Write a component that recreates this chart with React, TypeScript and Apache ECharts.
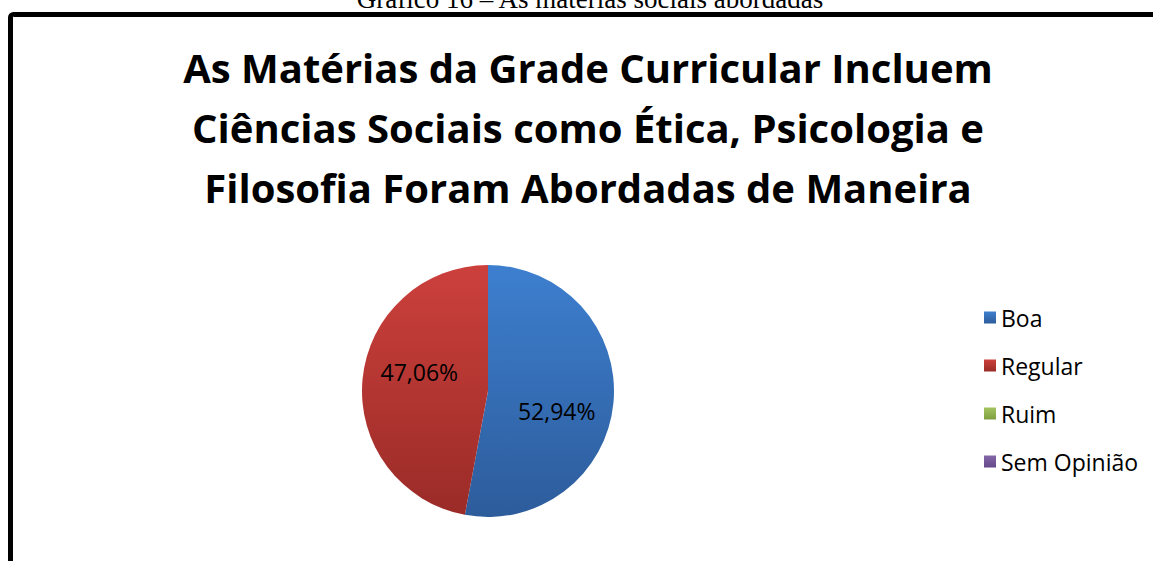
import React, { useEffect, useRef } from "react";
import * as echarts from "echarts";

const categories = ["Boa", "Regular", "Ruim", "Sem Opinião"];
const values = [9, 8, 0, 0];
const titleLines = [
  "As Matérias da Grade Curricular Incluem",
  "Ciências Sociais como Ética, Psicologia e",
  "Filosofia Foram Abordadas de Maneira",
];
const caption = "Gráfico 16 – As matérias sociais abordadas";

const colorsTop = ["#3d7fcf", "#cc403c", "#a3c45f", "#8566a8"];
const colorsBottom = ["#2d5c9b", "#9a2b27", "#7f9e40", "#65498a"];

export default function App() {
  const ref = useRef<HTMLDivElement>(null);
  useEffect(() => {
    document.body.style.margin = "0";
    const chart = echarts.init(ref.current!, null, { renderer: "svg" });
    const total = values.reduce((a, b) => a + b, 0);
    const grad = (i: number) =>
      new echarts.graphic.LinearGradient(0, 0, 0, 1, [
        { offset: 0, color: colorsTop[i] },
        { offset: 1, color: colorsBottom[i] },
      ]);
    const labelShift: Record<number, [number, number]> = { 0: [3, 14], 1: [-3, -13] };
    chart.setOption({
      animation: false,
      backgroundColor: "#ffffff",
      graphic: [
        {
          type: "text",
          x: 590,
          y: 12,
          style: {
            text: caption,
            fontFamily: "'Liberation Serif'",
            fontSize: 27,
            fill: "#000",
            textAlign: "center",
            textVerticalAlign: "bottom",
          },
        },
        {
          type: "rect",
          shape: { x: 10.5, y: 14.5, width: 1300, height: 700, r: 3 },
          style: { fill: "none", stroke: "#000", lineWidth: 5 },
        },
        ...titleLines.map((t, i) => ({
          type: "text",
          x: 588,
          y: 67 + i * 60,
          style: {
            text: t,
            fontFamily: "'Open Sans'",
            fontWeight: "bold",
            fontSize: 40,
            fill: "#000",
            textAlign: "center",
            textVerticalAlign: "middle",
          },
        })),
      ],
      legend: {
        orient: "vertical",
        left: 979,
        top: 301,
        itemWidth: 12,
        itemHeight: 12,
        itemGap: 25,
        icon: "rect",
        data: categories,
        textStyle: {
          fontFamily: "'Open Sans'",
          fontSize: 23,
          color: "#000",
          padding: [0, 0, 0, 0],
        },
      },
      series: [
        {
          type: "pie",
          center: [488, 391],
          radius: 126,
          startAngle: 90,
          clockwise: true,
          avoidLabelOverlap: false,
          itemStyle: { borderWidth: 0 },
          label: {
            show: true,
            position: "inside",
            fontFamily: "'Open Sans'",
            fontSize: 23,
            color: "#000",
            formatter: (p: any) =>
              p.value === 0 ? "" : ((p.value / total) * 100).toFixed(2).replace(".", ",") + "%",
          },
          labelLine: { show: false },
          labelLayout: (p: any) => {
            const s = labelShift[p.dataIndex] || [0, 0];
            return { dx: s[0], dy: s[1] };
          },
          emphasis: { disabled: true },
          data: categories.map((c, i) => ({
            name: c,
            value: values[i],
            itemStyle: { color: grad(i) },
          })),
        },
      ],
    });
    return () => chart.dispose();
  }, []);
  return <div ref={ref} style={{ width: 1153, height: 561 }} />;
}
